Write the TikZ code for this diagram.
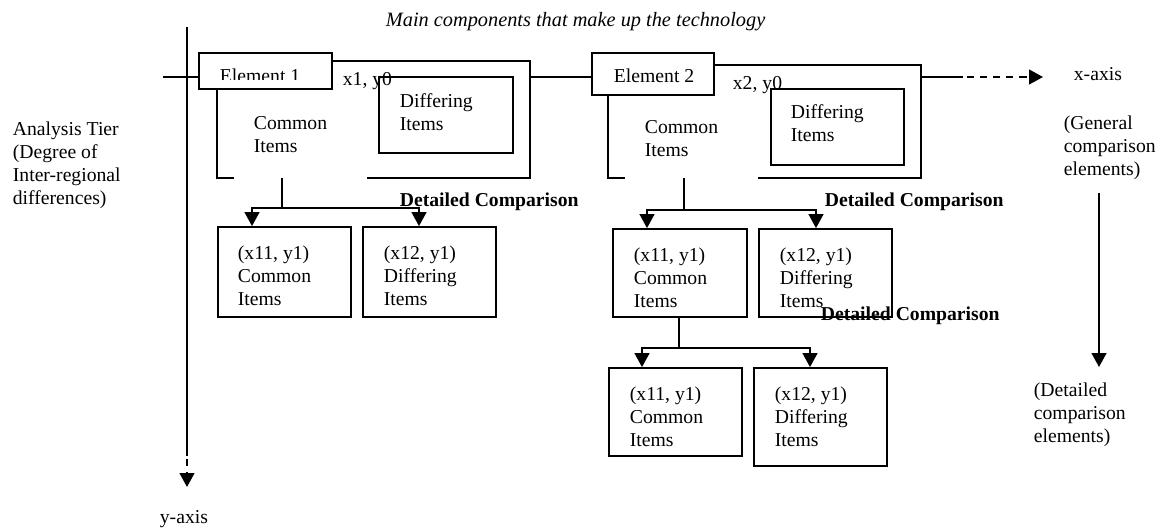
\documentclass[tikz,border=0pt]{standalone}
\usepackage{fontspec}
\setmainfont{Liberation Serif}
\usetikzlibrary{arrows.meta,fit}
\begin{document}
\begin{tikzpicture}[x=0.61pt,y=-0.61pt,
  line width=1.1pt,
  box/.style={draw, fill=white, inner sep=0pt},
  area/.style={fill=white, inner sep=0pt},
  txt/.style={inner sep=0pt, align=left, anchor=north west, font=\fontsize{12}{14}\selectfont},
  lbl/.style={inner sep=0pt, anchor=base west, font=\fontsize{12}{14}\selectfont},
  bold/.style={lbl, font=\fontsize{12}{14}\selectfont\bfseries},
  arr/.style={-{Triangle[width=9pt,length=8.5pt]}},
  dashline/.style={dash pattern=on 4.3pt off 3.7pt}]
\useasboundingbox (0,0) rectangle (1160,531);

% axes
\coordinate (ytop) at (187,27);
\coordinate (ysolid) at (187,456);
\coordinate (ydash) at (187,459);
\coordinate (yend) at (187,487);
\draw (ytop) -- (ysolid);
\draw[arr, dashline] (ydash) -- (yend);
\coordinate (xstart) at (163,77);
\coordinate (xsolid) at (963,77);
\coordinate (xdash) at (967,77);
\coordinate (xend) at (1043,77);
\draw (xstart) -- (xsolid);
\draw[arr, dashline] (xdash) -- (xend);

\node[lbl, font=\fontsize{12.4}{14}\selectfont\itshape] (title) at (385,26) {Main components that make up the technology};
\node[lbl] (xlab) at (1073,80) {x-axis};
\node[lbl] (ylab) at (159,523) {y-axis};
\node[txt] (tier) at (12,121) {Analysis Tier\\(Degree of\\Inter-regional\\differences)};
\node[txt] (gen) at (1063,115) {(General\\comparison\\elements)};
\node[txt] (det) at (1033,382) {(Detailed\\comparison\\elements)};
\coordinate (vtop) at (1099,193);
\coordinate (vend) at (1099,367);
\draw[arr] (vtop) -- (vend);

% element 1
\node[area, fit={(218,62)(529,177)}] (O1) {};
\draw (O1.south -| 234,0) -- (O1.south west) -- (O1.north west) -- (O1.north east)
      -- (O1.south east) -- (O1.south -| 367,0);
\node[box, fit={(199,53)(332,89)}] (E1) {};
\begin{scope}
  \clip (199,53) rectangle (332,79.5);
  \node[lbl] (E1t) at (219,82) {Element 1};
\end{scope}
\node[box, fit={(379,77)(513,153)}] (D1) {};
\node[lbl] (xy1) at (342,85) {x1, y0};
\node[txt] (com1) at (253,116) {Common\\Items};
\node[txt] (dif1) at (399,93) {Differing\\Items};

% element 2
\node[area, fit={(609,66)(920,177)}] (O2) {};
\draw (O2.south -| 625,0) -- (O2.south west) -- (O2.north west) -- (O2.north east)
      -- (O2.south east) -- (O2.south -| 758,0);
\draw (O2.east |- xstart) -- (xsolid);
\node[box, fit={(592,53)(714,95)}] (E2) {};
\node[lbl] (E2t) at (613,82) {Element 2};
\node[box, fit={(771,89)(904,165)}] (D2) {};
\node[lbl] (xy2) at (732,89) {x2, y0};
\node[txt] (com2) at (644,120) {Common\\Items};
\node[txt] (dif2) at (790,104) {Differing\\Items};

% detailed comparison under element 1
\node[box, fit={(218,227)(351,317)}] (L1) {};
\node[box, fit={(363,227)(496,317)}] (L2) {};
\node[txt] (L1t) at (237,245) {(x11, y1)\\Common\\Items};
\node[txt] (L2t) at (383,245) {(x12, y1)\\Differing\\Items};
\coordinate (j1) at (282,208);
\draw (O1.south -| j1) -- (j1);
\draw[arr] (j1) -| (L1.north -| 252,0);
\draw[arr] (j1) -| (L2.north -| 419,0);
\node[bold] (dc1) at (399,206) {Detailed Comparison};

% detailed comparison under element 2
\node[box, fit={(613,229)(747,317)}] (R1) {};
\node[box, fit={(759,229)(892,317)}] (R2) {};
\node[txt] (R1t) at (633,247) {(x11, y1)\\Common\\Items};
\node[txt] (R2t) at (779,247) {(x12, y1)\\Differing\\Items};
\coordinate (j2) at (684,210);
\draw (O2.south -| j2) -- (j2);
\draw[arr] (j2) -| (R1.north -| 647,0);
\draw[arr] (j2) -| (R2.north -| 816,0);
\node[bold] (dc2) at (824,206) {Detailed Comparison};

% next tier
\node[box, fit={(609,368)(742,456)}] (S1) {};
\node[box, fit={(754,368)(887,466)}] (S2) {};
\node[txt] (S1t) at (629,386) {(x11, y1)\\Common\\Items};
\node[txt] (S2t) at (774,386) {(x12, y1)\\Differing\\Items};
\coordinate (j3) at (679,348);
\draw (R1.south -| j3) -- (j3);
\draw[arr] (j3) -| (S1.north -| 642,0);
\draw[arr] (j3) -| (S2.north -| 810,0);
\node[bold] (dc3) at (820,320) {Detailed Comparison};
\end{tikzpicture}
\end{document}
